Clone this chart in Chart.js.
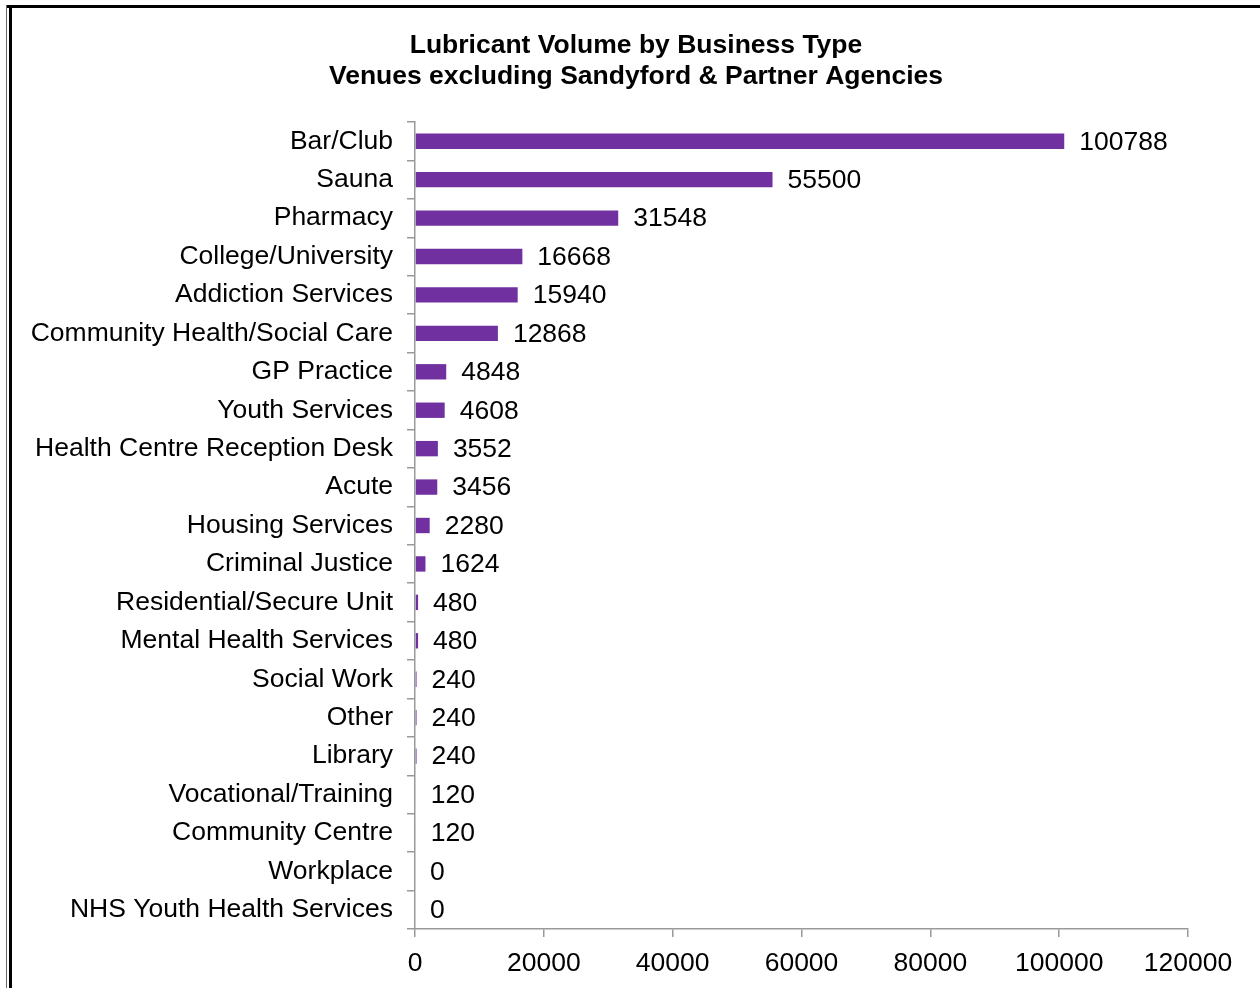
<!DOCTYPE html>
<html>
<head>
<meta charset="utf-8">
<script src="https://cdn.jsdelivr.net/npm/chart.js@4"></script>
<style>
html,body{margin:0;padding:0;background:#fff;}
#wrap{position:relative;width:1260px;height:988px;overflow:hidden;}
canvas{position:absolute;left:0;top:0;}
.f{position:absolute;background:#000;}
</style>
</head>
<body>
<div id="wrap">
<canvas id="c" width="1260" height="988"></canvas>
<div class="f" style="left:6px;top:5px;width:1254px;height:3px;"></div>
<div class="f" style="left:6px;top:5px;width:1px;height:983px;background:#666;"></div>
<div class="f" style="left:9px;top:7px;width:3px;height:981px;"></div>
</div>
<script>
const categories = ["Bar/Club","Sauna","Pharmacy","College/University","Addiction Services","Community Health/Social Care","GP Practice","Youth Services","Health Centre Reception Desk","Acute","Housing Services","Criminal Justice","Residential/Secure Unit","Mental Health Services","Social Work","Other","Library","Vocational/Training","Community Centre","Workplace","NHS Youth Health Services"];
const volumes = [100788,55500,31548,16668,15940,12868,4848,4608,3552,3456,2280,1624,480,480,240,240,240,120,120,0,0];
const titleLines = ["Lubricant Volume by Business Type","Venues excluding Sandyford & Partner Agencies"];
const xMin = 0, xMax = 120000, xStep = 20000;

const FONT = "'Liberation Sans', Arial, sans-serif";

const valueLabels = {
  id: 'valueLabels',
  afterDatasetsDraw(chart) {
    const ctx = chart.ctx;
    const meta = chart.getDatasetMeta(0);
    ctx.save();
    ctx.font = "26.5px " + FONT;
    ctx.fillStyle = "#000";
    ctx.textAlign = "left";
    ctx.textBaseline = "middle";
    meta.data.forEach((bar, i) => {
      ctx.fillText(String(volumes[i]), bar.x + 15, bar.y + 1);
    });
    ctx.restore();
  }
};

new Chart(document.getElementById('c'), {
  type: 'bar',
  data: {
    labels: categories,
    datasets: [{
      data: volumes,
      backgroundColor: '#7030A0',
      borderWidth: 0,
      barPercentage: 0.4,
      categoryPercentage: 1.0,
      yAxisID: 'y'
    }]
  },
  options: {
    indexAxis: 'y',
    responsive: false,
    animation: false,
    devicePixelRatio: 1,
    layout: { padding: { left: 12, right: 0, top: 0, bottom: 10 } },
    plugins: {
      legend: { display: false },
      tooltip: { enabled: false },
      title: {
        display: true,
        text: titleLines,
        color: '#000',
        font: { family: FONT, size: 26.5, weight: 'bold', lineHeight: 1.17 },
        padding: { top: 30, bottom: 30 }
      }
    },
    scales: {
      x: {
        min: xMin, max: xMax,
        ticks: { stepSize: xStep, color: '#000', font: { family: FONT, size: 26.5 }, padding: 11, maxRotation: 0,
                 callback: (v) => String(v) },
        grid: { display: true, drawOnChartArea: false, drawTicks: true, tickLength: 8, color: '#999', lineWidth: 1.5 },
        border: { display: true, color: '#999', width: 1.5 },
        afterFit(s) { s.height = 49; }
      },
      y: {
        position: 'left',
        ticks: { color: '#000', font: { family: FONT, size: 26.5 }, padding: 14, autoSkip: false },
        grid: { display: true, drawOnChartArea: false, drawTicks: true, tickLength: 8, color: '#999', lineWidth: 1.5, offset: true },
        border: { display: true, color: '#999', width: 1.5 },
        afterFit(s) { s.width = 403; }
      },
      yRight: {
        type: 'category',
        position: 'right',
        ticks: { display: false },
        grid: { display: false },
        border: { display: false },
        afterFit(s) { s.width = 72; }
      }
    }
  },
  plugins: [valueLabels]
});
</script>
</body>
</html>
